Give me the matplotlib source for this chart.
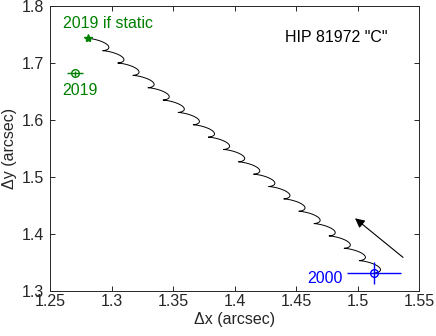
import numpy as np
import matplotlib
matplotlib.use("Agg")
import matplotlib.pyplot as plt

plt.rcParams['font.family'] = ['Liberation Sans', 'DejaVu Sans']

# ---- data (arcsec) ----
epoch_start = 2000.0
epoch_end = 2019.0
# measured positions of "C" relative to the primary
obs_x = [1.5137, 1.2703]
obs_y = [1.3316, 1.6820]
obs_xerr = [0.022, 0.0065]
obs_yerr = [0.020, 0.004]
obs_labels = ["2000", "2019"]
obs_colors = ["#0000ff", "#008000"]
# predicted 2019 position if "C" were a static background star
static_x = 1.2806
static_y = 1.7433
# parallax ellipse of the relative track
plx_ax = 0.0052
plx_ay = 0.00345
plx_phase = 1.19
# proper-motion direction arrow (tail, head)
arrow_tail = (1.537, 1.359)
arrow_head = (1.498, 1.4275)

# ---- track of a static background star ----
years = epoch_end - epoch_start
t = np.linspace(0, years, 6000)
th = 2 * np.pi * t
px = plx_ax * np.sin(th - plx_phase) - plx_ax * np.sin(-plx_phase)
py = -plx_ay * np.sin(th)
track_x = obs_x[0] + (static_x - obs_x[0]) * t / years + px
track_y = obs_y[0] + (static_y - obs_y[0]) * t / years + py

fig = plt.figure(figsize=(4.36, 3.36), dpi=100)
ax = fig.add_axes([50/436, 45/336, 369/436, 285/336])
axc = '#262626'

ax.plot(track_x, track_y, color='k', lw=0.7)
ax.plot([static_x], [static_y], marker='*', color='#008000', ms=6, ls='none')

for x, y, xe, ye, c in zip(obs_x, obs_y, obs_xerr, obs_yerr, obs_colors):
    ax.errorbar([x], [y], xerr=[xe], yerr=[ye], fmt='o', mfc='none', mec=c,
                ecolor=c, ms=5.5, mew=1, elinewidth=1, capsize=0)

ax.annotate('', xy=arrow_head, xytext=arrow_tail,
            arrowprops=dict(arrowstyle='-|>', color='k', lw=0.8,
                            mutation_scale=14, shrinkA=0, shrinkB=0))

fs = 11.5
ax.text(1.2603, 1.770, "2019 if static", color='#008000', fontsize=fs, va='center', ha='left')
ax.text(1.2603, 1.6514, obs_labels[1], color='#008000', fontsize=fs, va='center', ha='left')
ax.text(1.488, 1.3216, obs_labels[0], color='#0000ff', fontsize=fs, va='center', ha='right')
ax.text(1.441, 1.744, 'HIP 81972 "C"', color='k', fontsize=fs, va='center', ha='left')

ax.set_xlim(1.25, 1.55)
ax.set_ylim(1.3, 1.8)
ax.set_xticks([1.25, 1.3, 1.35, 1.4, 1.45, 1.5, 1.55])
ax.set_xticklabels(["1.25", "1.3", "1.35", "1.4", "1.45", "1.5", "1.55"])
ax.set_yticks([1.3, 1.4, 1.5, 1.6, 1.7, 1.8])
ax.set_yticklabels(["1.3", "1.4", "1.5", "1.6", "1.7", "1.8"])
ax.tick_params(direction='in', top=True, right=True, length=3.5, width=0.7,
               colors=axc, labelsize=fs, pad=2.5)
ax.tick_params(axis='y', pad=4)
for s in ax.spines.values():
    s.set_color(axc)
    s.set_linewidth(0.7)
ax.set_xlabel("Δx (arcsec)", fontsize=fs, color=axc, labelpad=2)
ax.set_ylabel("Δy (arcsec)", fontsize=fs, color=axc, labelpad=4)

fig.savefig("out.png", dpi=100)
